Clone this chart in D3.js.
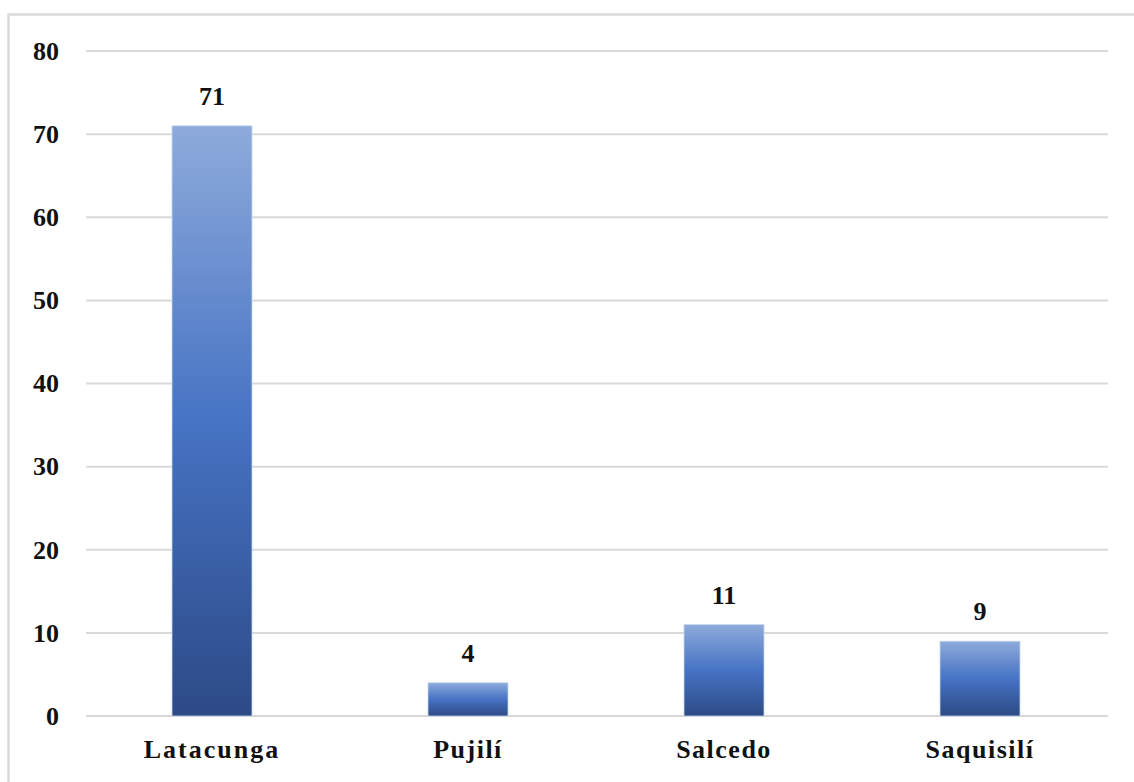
<!DOCTYPE html>
<html>
<head>
<meta charset="utf-8">
<script src="https://cdn.jsdelivr.net/npm/d3@7"></script>
<style>
  html, body { margin: 0; padding: 0; background: #fff; }
  svg { display: block; }
  text { font-family: "Liberation Serif", "Times New Roman", serif; font-weight: bold; fill: #111; }
</style>
</head>
<body>
<svg id="chart" width="1134" height="782"></svg>
<script>
// Cantons and number of records per canton
const categories = ["Latacunga", "Pujilí", "Salcedo", "Saquisilí"];
const values = [71, 4, 11, 9];
const yTicks = [0, 10, 20, 30, 40, 50, 60, 70, 80];

const svg = d3.select("#chart");
const W = 1134, H = 782;

// Chart frame (light gray border, open on the right and bottom edges)
svg.append("rect")
  .attr("x", 8.5).attr("y", 14.5)
  .attr("width", W + 20).attr("height", H + 20)
  .attr("fill", "none")
  .attr("stroke", "#d9d9d9")
  .attr("stroke-width", 2.5);

const plot = { left: 86, right: 1108, top: 51, bottom: 716 };

const x = d3.scaleBand()
  .domain(categories)
  .range([84, 1108])
  .paddingInner(0.6875)
  .paddingOuter(0.34375);

const y = d3.scaleLinear()
  .domain([0, 80])
  .range([plot.bottom, plot.top]);

// Vertical gradient shared by every bar (relative to each bar's box)
const defs = svg.append("defs");
const grad = defs.append("linearGradient")
  .attr("id", "barFill")
  .attr("x1", 0).attr("y1", 0).attr("x2", 0).attr("y2", 1);
grad.append("stop").attr("offset", "0%").attr("stop-color", "#8eaadb");
grad.append("stop").attr("offset", "50%").attr("stop-color", "#4673c4");
grad.append("stop").attr("offset", "100%").attr("stop-color", "#2d4a86");

// Horizontal gridlines
svg.append("g")
  .selectAll("line")
  .data(yTicks)
  .join("line")
  .attr("x1", plot.left).attr("x2", plot.right)
  .attr("y1", d => y(d)).attr("y2", d => y(d))
  .attr("stroke", "#d9d9d9")
  .attr("stroke-width", 2);

// Y axis tick labels
const yAxis = d3.axisLeft(y).tickValues(yTicks).tickSize(0).tickPadding(0);
const gy = svg.append("g")
  .attr("transform", `translate(${plot.left - 27},0)`)
  .call(yAxis);
gy.select(".domain").remove();
gy.selectAll("text")
  .attr("font-size", 26)
  .attr("fill", "#111");

// Bars
svg.append("g")
  .selectAll("rect")
  .data(categories)
  .join("rect")
  .attr("x", d => x(d))
  .attr("width", x.bandwidth())
  .attr("y", (d, i) => y(values[i]))
  .attr("height", (d, i) => y(0) - y(values[i]))
  .attr("fill", "url(#barFill)")
  .attr("stroke", "#c9d6ee")
  .attr("stroke-width", 0.8);

// Value labels above bars
svg.append("g")
  .selectAll("text")
  .data(categories)
  .join("text")
  .attr("x", d => x(d) + x.bandwidth() / 2)
  .attr("y", (d, i) => y(values[i]) - 21)
  .attr("text-anchor", "middle")
  .attr("font-size", 26)
  .text((d, i) => values[i]);

// Category axis labels
const xAxis = d3.axisBottom(x).tickSize(0).tickPadding(0);
const gx = svg.append("g")
  .attr("transform", `translate(0,${plot.bottom + 24})`)
  .call(xAxis);
gx.select(".domain").remove();
gx.selectAll("text")
  .attr("font-size", 26)
  .attr("fill", "#111")
  .attr("letter-spacing", d => d === "Latacunga" ? 2 : 1.5);
</script>
</body>
</html>
